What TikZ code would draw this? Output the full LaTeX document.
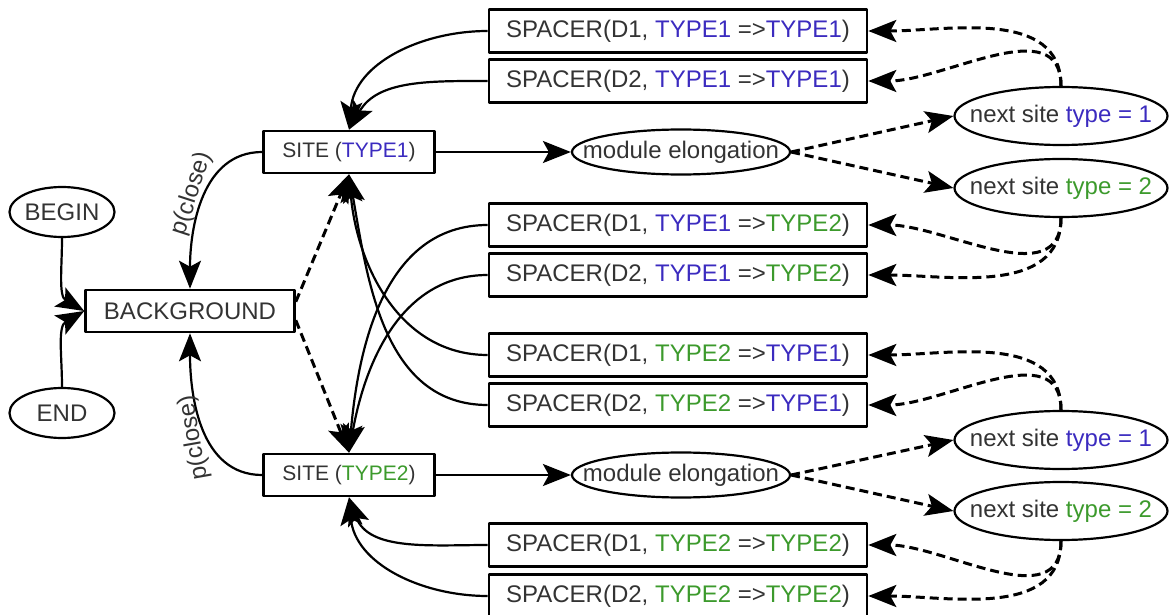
\documentclass[tikz,border=0pt]{standalone}
\usepackage{fontspec}
\setmainfont{Liberation Sans}
\usetikzlibrary{arrows.meta,shapes.geometric}
\definecolor{typeone}{HTML}{3B2BBF}
\definecolor{typetwo}{HTML}{3C9A2C}
\definecolor{ink}{HTML}{333333}
\newcommand{\tone}{\textcolor{typeone}{TYPE1}}
\newcommand{\ttwo}{\textcolor{typetwo}{TYPE2}}
\newcommand{\slim}[1]{\makebox[0pt]{#1}}
\begin{document}
\begin{tikzpicture}[x=0.5pt, y=-0.5pt, line join=round,
	every node/.style={text=ink, font=\fontsize{12}{14}\selectfont, inner sep=0pt},
	box/.style={draw, line width=1.3pt},
	spacer/.style={box, minimum width=189pt, minimum height=21.5pt},
	sitebox/.style={box, minimum width=85.5pt, minimum height=21pt, font=\fontsize{10.5}{12}\selectfont},
	oval/.style={draw, ellipse, line width=1.1pt},
	arr/.style={line width=1.1pt, -{Stealth[length=14pt, width=11pt, inset=3pt]}},
	darr/.style={arr, line width=1.5pt, dash pattern=on 4.5pt off 2.5pt},
	]
	\useasboundingbox (0,0) rectangle (1169,615);
	\node[oval, minimum width=52.5pt, minimum height=25pt] (begin) at (62,212) {\slim{BEGIN}};
	\node[oval, minimum width=52.5pt, minimum height=25pt] (end) at (62,413) {\slim{END}};
	\node[box, minimum width=104.5pt, minimum height=21pt] (bg) at (190,311) {BACKGROUND};
	\node[sitebox] (site1) at (349,152) {SITE (\tone)};
	\node[sitebox] (site2) at (349,475) {SITE (\ttwo)};
	\node[oval, minimum width=109pt, minimum height=22.5pt] (elong1) at (681,152) {\slim{module elongation}};
	\node[oval, minimum width=109pt, minimum height=22.5pt] (elong2) at (681,475) {\slim{module elongation}};
	% spacers
	\node[spacer] (sp1) at (678,31) {SPACER(D1, \tone\ =>\tone)};
	\node[spacer] (sp2) at (678,81) {SPACER(D2, \tone\ =>\tone)};
	\node[spacer] (sp3) at (678,225) {SPACER(D1, \tone\ =>\ttwo)};
	\node[spacer] (sp4) at (678,275) {SPACER(D2, \tone\ =>\ttwo)};
	\node[spacer] (sp5) at (678,355) {SPACER(D1, \ttwo\ =>\tone)};
	\node[spacer] (sp6) at (678,405) {SPACER(D2, \ttwo\ =>\tone)};
	\node[spacer] (sp7) at (678,545) {SPACER(D1, \ttwo\ =>\ttwo)};
	\node[spacer] (sp8) at (678,596) {SPACER(D2, \ttwo\ =>\ttwo)};
	% next site
	\node[oval, minimum width=106.5pt, minimum height=29pt] (nup1) at (1061,116) {\slim{next site \textcolor{typeone}{type = 1}}};
	\node[oval, minimum width=106.5pt, minimum height=29pt] (nup2) at (1061,188) {\slim{next site \textcolor{typetwo}{type = 2}}};
	\node[oval, minimum width=106.5pt, minimum height=29pt] (nlo1) at (1061,440) {\slim{next site \textcolor{typeone}{type = 1}}};
	\node[oval, minimum width=106.5pt, minimum height=29pt] (nlo2) at (1061,511) {\slim{next site \textcolor{typetwo}{type = 2}}};

	\draw[arr] (begin.south) to[out=-90, in=150] (bg.west);
	\draw[arr] (end.north) to[out=90, in=-150] (bg.west);
	\draw[arr] (site1.west) to[out=180, in=90] node[pos=0.5, rotate=72, anchor=south] {p(close)} (bg.north);
	\draw[arr] (site2.west) to[out=180, in=-90] node[pos=0.45, rotate=100, anchor=south] {p(close)} (bg.south);
	\draw[darr] (bg.5) -- (site1.south);
	\draw[darr] (bg.-5) -- (site2.north);
	\draw[arr] (site1.east) -- (elong1.west);
	\draw[arr] (site2.east) -- (elong2.west);

	\draw[arr] (sp1.west) to[out=180, in=85] (site1.north);
	\draw[arr] (sp2.west) to[out=180, in=60] (site1.north);
	\draw[arr] (sp3.west) to[out=180, in=85] (site2.north);
	\draw[arr] (sp4.west) to[out=180, in=80] (site2.north);
	\draw[arr] (sp5.west) to[out=180, in=-85] (site1.south);
	\draw[arr] (sp6.west) to[out=180, in=-80] (site1.south);
	\draw[arr] (sp7.west) to[out=180, in=-70] (site2.south);
	\draw[arr] (sp8.west) to[out=180, in=-85] (site2.south);

	\draw[darr] (elong1.east) -- (nup1.west);
	\draw[darr] (elong1.east) -- (nup2.west);
	\draw[darr] (elong2.east) -- (nlo1.west);
	\draw[darr] (elong2.east) -- (nlo2.west);
	\draw[darr] (nup1.north) to[out=90, in=0] (sp1.east);
	\draw[darr] (nup1.north) to[out=90, in=0] (sp2.east);
	\draw[darr] (nup2.south) to[out=-90, in=0] (sp3.east);
	\draw[darr] (nup2.south) to[out=-90, in=0] (sp4.east);
	\draw[darr] (nlo1.north) to[out=90, in=0] (sp5.east);
	\draw[darr] (nlo1.north) to[out=90, in=0] (sp6.east);
	\draw[darr] (nlo2.south) to[out=-90, in=0] (sp7.east);
	\draw[darr] (nlo2.south) to[out=-90, in=0] (sp8.east);
\end{tikzpicture}
\end{document}
